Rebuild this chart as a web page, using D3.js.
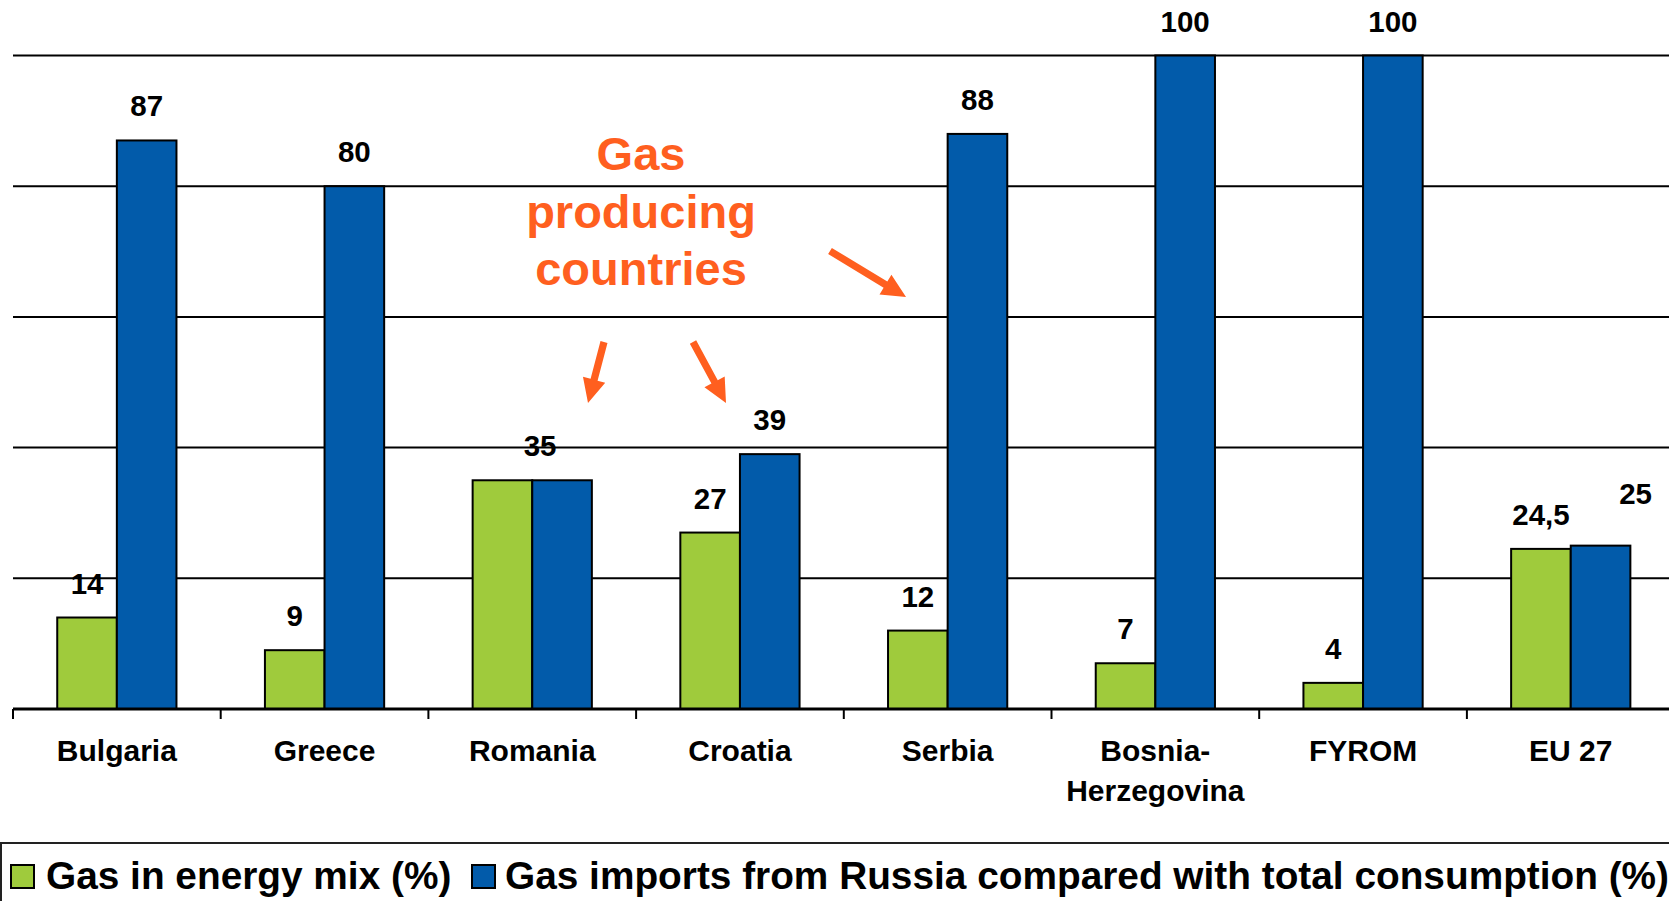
<!DOCTYPE html>
<html>
<head>
<meta charset="utf-8">
<script src="https://cdn.jsdelivr.net/npm/d3@7"></script>
<style>
  html, body { margin: 0; padding: 0; background: #fff; }
  svg { display: block; }
  text { font-family: "Liberation Sans", Arial, sans-serif; font-weight: bold; }
</style>
</head>
<body>
<svg id="chart" width="1669" height="901"></svg>
<script>
// ---------- data ----------
const categories = ["Bulgaria", "Greece", "Romania", "Croatia", "Serbia", "Bosnia-Herzegovina", "FYROM", "EU 27"];
const seriesNames = ["Gas in energy mix (%)", "Gas imports from Russia compared with total consumption (%)"];
const gasInEnergyMix = [14, 9, 35, 27, 12, 7, 4, 24.5];
const gasImportsFromRussia = [87, 80, 35, 39, 88, 100, 100, 25];
const valueLabelsMix = ["14", "9", "", "27", "12", "7", "4", "24,5"];
const valueLabelsRussia = ["87", "80", "35", "39", "88", "100", "100", "25"];
const gridTicks = [20, 40, 60, 80, 100];
const annotationLines = ["Gas", "producing", "countries"];

// ---------- layout / style ----------
const W = 1669, H = 901;
const colors = ["#9FCB3C", "#025BAA"];
const orange = "#FF5F1F";
const plotLeft = 13, step = 207.7, baseY = 709, topY = 55.5;

const svg = d3.select("#chart");

const x0 = d3.scaleBand().domain(categories)
  .range([plotLeft, plotLeft + step * categories.length]).padding(0);
const x1 = d3.scaleBand().domain([0, 1])
  .range([0, x0.bandwidth()]).paddingInner(0).paddingOuter(0.742);
const y = d3.scaleLinear().domain([0, 100]).range([baseY, topY]);

// gridlines
svg.append("g").selectAll("line").data(gridTicks).join("line")
  .attr("x1", plotLeft).attr("x2", W)
  .attr("y1", d => y(d)).attr("y2", d => y(d))
  .attr("stroke", "#000").attr("stroke-width", 2);

// bars
const rows = categories.map((c, i) => ({ c, vals: [gasInEnergyMix[i], gasImportsFromRussia[i]], labs: [valueLabelsMix[i], valueLabelsRussia[i]] }));
const groups = svg.append("g").selectAll("g").data(rows).join("g")
  .attr("transform", d => `translate(${x0(d.c)},0)`);
groups.selectAll("rect").data(d => d.vals.map((v, k) => ({ v, k }))).join("rect")
  .attr("x", d => x1(d.k)).attr("width", x1.bandwidth())
  .attr("y", d => y(d.v)).attr("height", d => y(0) - y(d.v))
  .attr("fill", d => colors[d.k]).attr("stroke", "#000").attr("stroke-width", 2);

// value labels (nudges mimic manually moved labels)
const nudges = { "Romania|1": [-22, 0], "EU 27|1": [35, -18] };
groups.selectAll("text.val").data(d => d.vals.map((v, k) => ({ v, k, lab: d.labs[k], c: d.c }))).join("text")
  .attr("class", "val")
  .attr("x", d => x1(d.k) + x1.bandwidth() / 2 + ((nudges[d.c + "|" + d.k] || [0, 0])[0]))
  .attr("y", d => y(d.v) - 24 + ((nudges[d.c + "|" + d.k] || [0, 0])[1]))
  .attr("text-anchor", "middle").attr("font-size", 29.5).attr("fill", "#000")
  .text(d => d.lab);

// x axis
const axis = svg.append("g").attr("transform", `translate(0,${baseY})`)
  .call(d3.axisBottom(x0).tickSize(0).tickPadding(0));
axis.select(".domain").remove();
svg.append("line").attr("x1", plotLeft).attr("x2", W).attr("y1", baseY).attr("y2", baseY)
  .attr("stroke", "#000").attr("stroke-width", 3);
// boundary ticks
svg.append("g").selectAll("line").data(categories).join("line")
  .attr("x1", d => x0(d)).attr("x2", d => x0(d))
  .attr("y1", baseY).attr("y2", baseY + 10)
  .attr("stroke", "#000").attr("stroke-width", 2);
axis.selectAll(".tick text").each(function (d) {
  const t = d3.select(this);
  t.text(null).attr("y", 52).attr("dy", null)
    .attr("font-size", 30).attr("fill", "#000")
    .attr("font-family", "Liberation Sans, Arial, sans-serif").attr("font-weight", "bold");
  const parts = d.includes("-") ? [d.slice(0, d.indexOf("-") + 1), d.slice(d.indexOf("-") + 1)] : [d];
  parts.forEach((p, i) => t.append("tspan").attr("x", 0).attr("dy", i === 0 ? 0 : 40).text(p));
});

// annotation text
svg.append("text").attr("x", 641).attr("y", 170).attr("text-anchor", "middle")
  .attr("font-size", 47).attr("fill", orange)
  .selectAll("tspan").data(annotationLines).join("tspan")
  .attr("x", 641).attr("dy", (d, i) => i === 0 ? 0 : 57.5).text(d => d);

// arrows (annotation)
const arrows = [
  { from: [604, 342], to: [588, 403] },
  { from: [693, 342], to: [726, 403] },
  { from: [830, 251], to: [906, 297] }
];
function arrowPath(a) {
  const [x1a, y1a] = a.from, [x2a, y2a] = a.to;
  const dx = x2a - x1a, dy = y2a - y1a, L = Math.hypot(dx, dy);
  const ux = dx / L, uy = dy / L, px = -uy, py = ux;
  const sw = 3.6, hw = 11.5, hl = 24;
  const bx = x2a - ux * hl, by = y2a - uy * hl;
  const pts = [
    [x1a + px * sw, y1a + py * sw],
    [bx + px * sw, by + py * sw],
    [bx + px * hw, by + py * hw],
    [x2a, y2a],
    [bx - px * hw, by - py * hw],
    [bx - px * sw, by - py * sw],
    [x1a - px * sw, y1a - py * sw]
  ];
  return "M" + pts.map(p => p.join(",")).join("L") + "Z";
}
svg.append("g").selectAll("path").data(arrows).join("path")
  .attr("d", arrowPath).attr("fill", orange);

// legend
const lg = svg.append("g");
lg.append("rect").attr("x", 1).attr("y", 843).attr("width", W + 10).attr("height", 80)
  .attr("fill", "#fff").attr("stroke", "#222").attr("stroke-width", 2);
const legendItems = [
  { name: seriesNames[0], color: colors[0], mx: 11, tx: 46 },
  { name: seriesNames[1], color: colors[1], mx: 472, tx: 505 }
];
lg.selectAll("rect.m").data(legendItems).join("rect").attr("class", "m")
  .attr("x", d => d.mx).attr("y", 865).attr("width", 23).attr("height", 23)
  .attr("fill", d => d.color).attr("stroke", "#000").attr("stroke-width", 2);
lg.selectAll("text").data(legendItems).join("text")
  .attr("x", d => d.tx).attr("y", 889).attr("font-size", 38.8).attr("fill", "#000")
  .text(d => d.name);
</script>
</body>
</html>
